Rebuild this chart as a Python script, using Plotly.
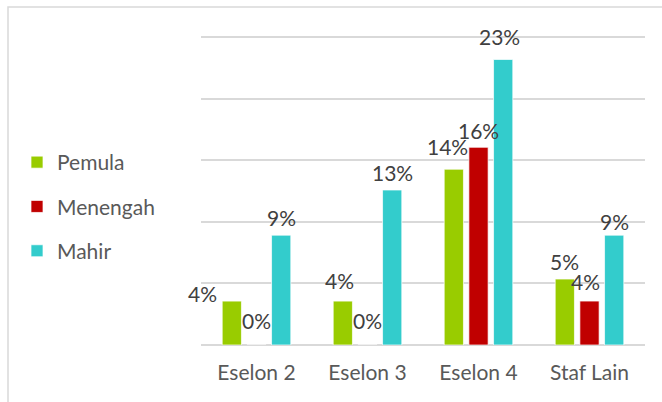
import plotly.graph_objects as go

# Share of staff at each competence level, by position group
categories = ["Eselon 2", "Eselon 3", "Eselon 4", "Staf Lain"]
pemula = [0.0357, 0.0357, 0.1429, 0.0536]
menengah = [0.0, 0.0, 0.1607, 0.0357]
mahir = [0.0893, 0.126, 0.2321, 0.0893]

series = [
    ("Pemula", pemula, "#99CC00"),
    ("Menengah", menengah, "#C00000"),
    ("Mahir", mahir, "#33CCCC"),
]

W, H = 662, 402
ML, MR, MT, MB = 201, 17, 35, 57
PW, PH = W - ML - MR, H - MT - MB
BARGAP = 0.333
YMAX = 0.252

FONT = "Lato, 'Open Sans', sans-serif"
FS = 21
GRID = "#d9d9d9"

fig = go.Figure()
for name, vals, color in series:
    fig.add_trace(go.Bar(
        x=categories, y=vals, name=name, legendgroup=name,
        marker=dict(color=color, line=dict(color="rgba(255,255,255,0.7)", width=1)),
        hoverinfo="skip",
    ))

# data labels, nudged (dx, dy in px) to sit where they read best
nudges = [
    [(-29, 8), (-3, 21), (-6, 23), (0, 18)],
    [(0, 25), (0, 25), (0, 17), (-4, 20)],
    [(0, 18), (0, 18), (-4, 23), (0, 14)],
]
slot = PW / len(categories) * (1 - BARGAP) / len(series)
for si, (name, vals, color) in enumerate(series):
    off = (si - (len(series) - 1) / 2) * slot
    for ci, (cat, v) in enumerate(zip(categories, vals)):
        dx, dy = nudges[si][ci]
        fig.add_annotation(
            x=cat, y=v, xref="x", yref="y", text=f"{v:.0%}", showarrow=False,
            xanchor="center", yanchor="middle", xshift=off + dx, yshift=dy,
            font=dict(family=FONT, size=FS, color="#404040"),
        )

def px_x(p):
    return (p - ML) / PW

def px_y(p):
    return (H - MB - p) / PH

# chart-area frame along the top and left edges
fig.add_shape(
    type="path", xref="paper", yref="paper", layer="below",
    path=f"M {px_x(8)} {px_y(410)} L {px_x(8)} {px_y(7)} L {px_x(670)} {px_y(7)}",
    line=dict(color=GRID, width=1.5),
)

fig.update_layout(
    width=W, height=H,
    margin=dict(l=ML, r=MR, t=MT, b=MB, pad=0, autoexpand=False),
    paper_bgcolor="white", plot_bgcolor="white",
    barmode="group", bargap=BARGAP, bargroupgap=0.22,
    font=dict(family=FONT, size=FS, color="#595959"),
    showlegend=True,
    legend=dict(
        x=px_x(17), xanchor="left", y=px_y(142), yanchor="top",
        traceorder="grouped", tracegroupgap=14,
        font=dict(family=FONT, size=FS, color="#595959"),
        bgcolor="rgba(0,0,0,0)",
    ),
    xaxis=dict(
        range=[-0.5, len(categories) - 0.5], autorange=False,
        showgrid=False, showline=False, ticks="", ticklabelstandoff=13,
        tickfont=dict(family=FONT, size=FS, color="#595959"),
    ),
    yaxis=dict(
        range=[0, YMAX], autorange=False, dtick=0.05, showticklabels=False,
        showgrid=True, gridcolor=GRID, gridwidth=1.5,
        zeroline=True, zerolinecolor=GRID, zerolinewidth=1.5,
        showline=False, ticks="",
    ),
)

fig.write_html("out.html")
